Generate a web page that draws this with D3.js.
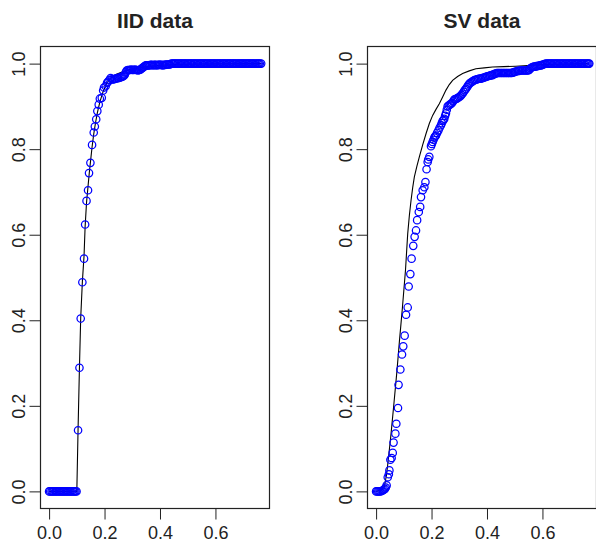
<!DOCTYPE html>
<html>
<head>
<meta charset="utf-8">
<script src="https://cdn.jsdelivr.net/npm/d3@7"></script>
<style>
  body { margin: 0; background: #fff; }
  svg { display: block; font-family: "Liberation Sans", Arial, Helvetica, sans-serif; }
</style>
</head>
<body>
<svg id="chart" width="596" height="543"></svg>
<script>
const iidEcdf = [
  [0.000,0],[0.004,0],[0.009,0],[0.013,0],[0.017,0],[0.022,0],[0.026,0],[0.030,0],
  [0.035,0],[0.039,0],[0.043,0],[0.048,0],[0.052,0],[0.056,0],[0.061,0],[0.065,0],
  [0.069,0],[0.074,0],[0.078,0],[0.082,0],[0.087,0],[0.091,0],[0.095,0],[0.099,0],
  [0.1045,0.143],[0.1095,0.289],[0.114,0.404],[0.120,0.489],[0.126,0.544],[0.130,0.624],
  [0.135,0.679],[0.1405,0.704],[0.144,0.744],[0.149,0.768],[0.155,0.810],[0.161,0.839],
  [0.165,0.853],[0.170,0.870],[0.174,0.889],[0.179,0.904],[0.183,0.918],[0.190,0.920],
  [0.195,0.937],[0.198,0.944],[0.204,0.947],[0.209,0.955],[0.213,0.958],[0.218,0.962],
  [0.222,0.966],[0.227,0.963],[0.232,0.963],[0.236,0.964],[0.240,0.965],[0.245,0.966],
  [0.249,0.966],[0.254,0.967],[0.258,0.968],[0.262,0.969],[0.266,0.970],[0.270,0.972],
  [0.273,0.974],[0.277,0.980],[0.280,0.984],[0.284,0.985],[0.288,0.985],[0.292,0.985],
  [0.296,0.986],[0.300,0.985],[0.305,0.985],[0.309,0.986],[0.313,0.985],[0.317,0.985],
  [0.321,0.984],[0.325,0.985],[0.329,0.986],[0.333,0.988],[0.337,0.990],[0.341,0.992],
  [0.345,0.994],[0.349,0.996],[0.353,0.996],[0.358,0.996],[0.362,0.996],[0.366,0.997],
  [0.371,0.997],[0.375,0.996],[0.380,0.997],[0.384,0.997],[0.388,0.996],[0.393,0.997],
  [0.397,0.997],[0.401,0.997],[0.406,0.997],[0.410,0.996],[0.414,0.997],[0.419,0.997],
  [0.423,0.998],[0.427,0.998],[0.432,0.998],[0.436,0.998],[0.441,1],[0.445,1],
  [0.450,1],[0.454,1],[0.458,1],[0.463,1],[0.467,1],[0.472,1],[0.476,1],[0.480,1],
  [0.485,1],[0.489,1],[0.493,1],[0.498,1],[0.502,1],[0.507,1],[0.511,1],[0.515,1],
  [0.520,1],[0.524,1],[0.528,1],[0.533,1],[0.537,1],[0.542,1],[0.546,1],[0.550,1],
  [0.555,1],[0.559,1],[0.563,1],[0.568,1],[0.572,1],[0.577,1],[0.581,1],[0.585,1],
  [0.590,1],[0.594,1],[0.598,1],[0.603,1],[0.607,1],[0.612,1],[0.616,1],[0.620,1],
  [0.625,1],[0.629,1],[0.633,1],[0.638,1],[0.642,1],[0.647,1],[0.651,1],[0.655,1],
  [0.660,1],[0.664,1],[0.668,1],[0.673,1],[0.677,1],[0.682,1],[0.686,1],[0.690,1],
  [0.695,1],[0.699,1],[0.703,1],[0.708,1],[0.712,1],[0.717,1],[0.721,1],[0.725,1],
  [0.730,1],[0.734,1],[0.738,1],[0.743,1],[0.747,1],[0.752,1],[0.756,1],[0.760,1],
  [0.765,1]
];

const iidFit = [
  [0,0],[0.100,0],[0.1045,0.145],[0.1095,0.29],[0.114,0.405],[0.120,0.49],[0.126,0.55],
  [0.130,0.62],[0.135,0.675],[0.140,0.71],[0.145,0.745],[0.150,0.775],[0.155,0.805],
  [0.161,0.835],[0.167,0.86],[0.174,0.885],[0.183,0.91],[0.195,0.935],[0.209,0.955],
  [0.225,0.967],[0.243,0.975],[0.265,0.981],[0.290,0.986],[0.330,0.991],[0.380,0.995],
  [0.450,0.998],[0.550,0.999],[0.765,1]
];

const svEcdf = [
  [0.000,0],[0.004,0],[0.008,0],[0.012,0],[0.016,0],[0.020,0.001],[0.024,0.002],
  [0.028,0.004],[0.032,0.006],[0.035,0.009],[0.038,0.014],[0.042,0.033],[0.046,0.040],
  [0.048,0.049],[0.0515,0.074],[0.056,0.078],[0.060,0.090],[0.063,0.114],[0.0695,0.135],
  [0.073,0.158],[0.079,0.195],[0.081,0.249],[0.0875,0.285],[0.0935,0.320],[0.098,0.339],
  [0.103,0.364],[0.108,0.413],[0.114,0.430],[0.1175,0.479],[0.1235,0.508],[0.128,0.544],
  [0.134,0.574],[0.139,0.595],[0.144,0.610],[0.148,0.634],[0.154,0.653],[0.159,0.665],
  [0.162,0.688],[0.168,0.704],[0.174,0.711],[0.178,0.723],[0.182,0.753],[0.186,0.770],
  [0.188,0.776],[0.192,0.782],[0.198,0.807],[0.201,0.812],[0.204,0.817],[0.207,0.822],
  [0.210,0.827],[0.213,0.830],[0.216,0.832],[0.220,0.838],[0.225,0.844],[0.229,0.850],
  [0.234,0.856],[0.237,0.861],[0.240,0.866],[0.243,0.868],[0.246,0.871],[0.249,0.878],
  [0.252,0.884],[0.255,0.892],[0.258,0.900],[0.262,0.902],[0.266,0.904],[0.270,0.906],
  [0.274,0.908],[0.278,0.912],[0.282,0.916],[0.286,0.917],[0.291,0.918],[0.295,0.920],
  [0.300,0.922],[0.304,0.924],[0.308,0.927],[0.312,0.930],[0.316,0.934],[0.320,0.938],
  [0.324,0.941],[0.328,0.945],[0.332,0.949],[0.336,0.953],[0.340,0.955],[0.345,0.957],
  [0.349,0.959],[0.354,0.961],[0.358,0.962],[0.363,0.963],[0.368,0.964],[0.373,0.965],
  [0.378,0.965],[0.383,0.966],[0.387,0.967],[0.392,0.968],[0.396,0.969],[0.401,0.970],
  [0.406,0.971],[0.411,0.972],[0.416,0.973],[0.420,0.973],[0.424,0.975],[0.428,0.976],
  [0.432,0.977],[0.436,0.978],[0.440,0.978],[0.444,0.978],[0.449,0.978],[0.453,0.978],
  [0.458,0.978],[0.462,0.978],[0.467,0.978],[0.471,0.978],[0.476,0.978],[0.480,0.978],
  [0.485,0.978],[0.489,0.978],[0.493,0.979],[0.498,0.980],[0.502,0.981],[0.507,0.982],
  [0.512,0.983],[0.516,0.983],[0.521,0.984],[0.526,0.984],[0.530,0.984],[0.535,0.984],
  [0.540,0.984],[0.544,0.984],[0.549,0.984],[0.553,0.986],[0.557,0.989],[0.561,0.991],
  [0.565,0.992],[0.569,0.993],[0.574,0.993],[0.578,0.994],[0.582,0.994],[0.586,0.995],
  [0.591,0.996],[0.595,0.996],[0.599,0.997],[0.603,0.998],[0.608,0.999],[0.612,1],
  [0.617,1],[0.621,1],[0.626,1],[0.630,1],[0.634,1],[0.639,1],[0.643,1],[0.648,1],
  [0.652,1],[0.656,1],[0.661,1],[0.665,1],[0.670,1],[0.674,1],[0.678,1],[0.683,1],
  [0.687,1],[0.692,1],[0.696,1],[0.700,1],[0.705,1],[0.709,1],[0.714,1],[0.718,1],
  [0.722,1],[0.727,1],[0.731,1],[0.736,1],[0.740,1],[0.744,1],[0.749,1],[0.753,1],
  [0.758,1],[0.762,1],[0.766,1],[0.769,1]
];

const svFit = [
  [0,0],[0.020,0.003],[0.030,0.012],[0.038,0.04],[0.045,0.08],[0.054,0.135],[0.065,0.21],
  [0.075,0.28],[0.084,0.35],[0.095,0.43],[0.106,0.517],[0.114,0.602],[0.120,0.645],
  [0.126,0.68],[0.132,0.71],[0.138,0.735],[0.147,0.76],[0.156,0.782],[0.168,0.81],
  [0.180,0.836],[0.192,0.86],[0.204,0.879],[0.216,0.893],[0.228,0.906],[0.240,0.922],
  [0.252,0.938],[0.264,0.951],[0.276,0.961],[0.294,0.97],[0.312,0.977],[0.336,0.983],
  [0.360,0.988],[0.390,0.990],[0.420,0.992],[0.460,0.993],[0.504,0.994],[0.560,0.996],
  [0.620,0.998],[0.769,1]
];

const xTicks = [0, 0.2, 0.4, 0.6];
const yTicks = [0, 0.2, 0.4, 0.6, 0.8, 1.0];

const panels = [
  { title: 'IID data', ecdf: iidEcdf, fit: iidFit, left: 40.5 },
  { title: 'SV data', ecdf: svEcdf, fit: svFit, left: 367.5 }
];

const svg = d3.select('#chart');
const boxW = 229;
const plotTop = 46.5;
const plotBottom = 508.5;

const y = d3.scaleLinear().domain([-0.04, 1.04]).range([plotBottom, plotTop]);

panels.forEach(p => {
  const x = d3.scaleLinear().domain([-0.031, 0.795]).range([p.left, p.left + boxW]);
  const g = svg.append('g');

  g.append('text')
    .attr('x', p.left + boxW / 2)
    .attr('y', 28)
    .attr('text-anchor', 'middle')
    .attr('font-size', 21)
    .attr('font-weight', 'bold')
    .attr('fill', '#222')
    .text(p.title);

  const xAxis = g.append('g')
    .attr('transform', `translate(0,${plotBottom})`)
    .call(d3.axisBottom(x).tickValues(xTicks).tickSize(11).tickFormat(d3.format('.1f')));
  xAxis.select('.domain').remove();
  xAxis.selectAll('text').attr('y', 30.5).attr('dy', 0);

  const yAxis = g.append('g')
    .attr('transform', `translate(${p.left},0)`)
    .call(d3.axisLeft(y).tickValues(yTicks).tickSize(11).tickFormat(d3.format('.1f')));
  yAxis.select('.domain').remove();
  yAxis.selectAll('text')
    .attr('x', 0).attr('dy', 0)
    .attr('text-anchor', 'middle')
    .attr('transform', 'translate(-16,0) rotate(-90)');

  [xAxis, yAxis].forEach(a => {
    a.attr('font-size', 18).attr('font-family', null);
    a.selectAll('line').attr('stroke', '#222');
    a.selectAll('text').attr('fill', '#222');
  });

  g.append('path')
    .datum(p.fit)
    .attr('fill', 'none')
    .attr('stroke', '#000')
    .attr('stroke-width', 1.1)
    .attr('d', d3.line().x(d => x(d[0])).y(d => y(d[1])));

  g.selectAll('circle')
    .data(p.ecdf)
    .enter()
    .append('circle')
    .attr('cx', d => x(d[0]))
    .attr('cy', d => y(d[1]))
    .attr('r', 3.7)
    .attr('fill', 'none')
    .attr('stroke', '#0000ff')
    .attr('stroke-width', 1.25);

  g.append('rect')
    .attr('x', p.left)
    .attr('y', plotTop)
    .attr('width', boxW)
    .attr('height', plotBottom - plotTop)
    .attr('fill', 'none')
    .attr('stroke', '#222')
    .attr('stroke-width', 1.2);
});
</script>
</body>
</html>
